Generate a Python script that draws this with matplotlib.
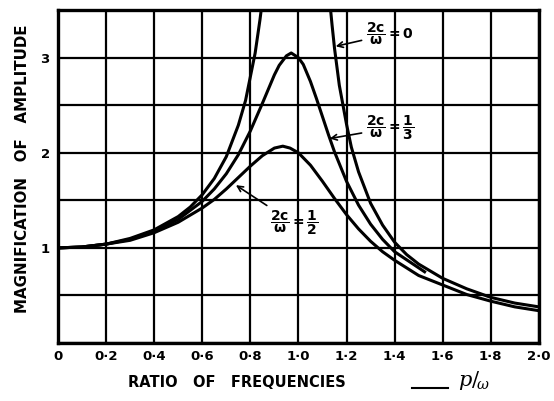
import matplotlib
matplotlib.use('Agg')
import matplotlib.pyplot as plt
from matplotlib.ticker import MultipleLocator, FixedLocator

plt.rcParams['mathtext.fontset'] = 'dejavusans'

# ── curve readings (ratio p/w, magnification) ───────────────────────────────
r_free_lo = [0.0, 0.1, 0.2, 0.3, 0.4, 0.5, 0.55, 0.6, 0.65, 0.7, 0.75, 0.78, 0.8, 0.82, 0.84, 0.85]
m_free_lo = [1.0, 1.01, 1.04, 1.10, 1.19, 1.33, 1.43, 1.56, 1.73, 1.96, 2.29, 2.55, 2.80, 3.05, 3.40, 3.60]
r_free_hi = [1.13, 1.14, 1.15, 1.17, 1.2, 1.22, 1.25, 1.3, 1.35, 1.4, 1.45, 1.5, 1.6, 1.7, 1.8, 1.9, 2.0]
m_free_hi = [3.60, 3.34, 3.10, 2.71, 2.30, 2.06, 1.80, 1.47, 1.24, 1.06, 0.93, 0.83, 0.68, 0.57, 0.48, 0.42, 0.38]

r_third = [0.0, 0.1, 0.2, 0.3, 0.4, 0.5, 0.6, 0.65, 0.7, 0.75, 0.8, 0.85, 0.88, 0.9, 0.92, 0.95,
           0.97, 1.0, 1.02, 1.05, 1.075, 1.1, 1.125, 1.15, 1.2, 1.25, 1.3, 1.35, 1.4, 1.53]
m_third = [1.0, 1.01, 1.04, 1.09, 1.18, 1.30, 1.49, 1.62, 1.78, 1.98, 2.23, 2.52, 2.70, 2.82, 2.92, 3.02,
           3.05, 3.00, 2.93, 2.75, 2.57, 2.38, 2.19, 2.01, 1.70, 1.45, 1.25, 1.09, 0.96, 0.74]

r_half = [0.0, 0.1, 0.2, 0.3, 0.4, 0.5, 0.6, 0.65, 0.7, 0.75, 0.8, 0.85, 0.9, 0.935, 0.965, 1.0,
          1.05, 1.1, 1.15, 1.2, 1.25, 1.3, 1.35, 1.4, 1.5, 1.6, 1.7, 1.8, 1.9, 2.0]
m_half = [1.0, 1.01, 1.04, 1.08, 1.16, 1.27, 1.42, 1.51, 1.62, 1.74, 1.86, 1.97, 2.05, 2.07, 2.05, 2.00,
          1.87, 1.70, 1.52, 1.35, 1.20, 1.07, 0.96, 0.87, 0.71, 0.61, 0.51, 0.44, 0.38, 0.34]

x_ticks = [0.0, 0.2, 0.4, 0.6, 0.8, 1.0, 1.2, 1.4, 1.6, 1.8, 2.0]
x_labels = ['0', '0·2', '0·4', '0·6', '0·8', '1·0', '1·2', '1·4', '1·6', '1·8', '2·0']
y_ticks = [1, 2, 3]

fig = plt.figure(figsize=(5.54, 4.01), dpi=100)
fig.patch.set_facecolor('white')
ax = fig.add_axes([0.1047, 0.1446, 0.868, 0.830])
ax.set_xlim(0, 2.0)
ax.set_ylim(0, 3.5)

# grid
ax.xaxis.set_major_locator(FixedLocator(x_ticks))
ax.yaxis.set_major_locator(FixedLocator(y_ticks))
ax.yaxis.set_minor_locator(MultipleLocator(0.5))
ax.grid(True, which='both', color='black', lw=1.6)
ax.set_axisbelow(True)
ax.tick_params(which='both', length=0)
ax.set_xticklabels(x_labels, fontsize=9.5, fontweight='bold')
ax.set_yticklabels([str(v) for v in y_ticks], fontsize=9.5, fontweight='bold')
ax.tick_params(axis='x', pad=5)
ax.tick_params(axis='y', pad=6)
for s in ax.spines.values():
    s.set_linewidth(2.4)

# curves
kw = dict(color='black', lw=2.2, solid_joinstyle='round', solid_capstyle='butt')
ax.plot(r_free_lo, m_free_lo, **kw)
ax.plot(r_free_hi, m_free_hi, **kw)
ax.plot(r_third, m_third, **kw)
ax.plot(r_half, m_half, **kw)

# labels with arrows
arr = dict(arrowstyle='->', color='black', lw=1.2, shrinkA=1, shrinkB=0)
ax.annotate(r'$\mathbf{\dfrac{2c}{\omega}=0}$', xy=(1.155, 3.12), xytext=(1.28, 3.25),
            ha='left', va='center', fontsize=10, arrowprops=arr)
ax.annotate(r'$\mathbf{\dfrac{2c}{\omega}=\dfrac{1}{3}}$', xy=(1.13, 2.15), xytext=(1.28, 2.26),
            ha='left', va='center', fontsize=10, arrowprops=arr)
ax.annotate(r'$\mathbf{\dfrac{2c}{\omega}=\dfrac{1}{2}}$', xy=(0.74, 1.66), xytext=(0.88, 1.26),
            ha='left', va='center', fontsize=10, arrowprops=arr)

# axis titles
fig.text(0.04, 0.58, 'MAGNIFICATION   OF   AMPLITUDE', rotation=90,
         ha='center', va='center', fontsize=10.8, fontweight='bold')
fig.text(0.428, 0.045, 'RATIO   OF   FREQUENCIES', ha='center', va='center',
         fontsize=10.5, fontweight='bold')
fig.add_artist(plt.Line2D([412/554, 448/554], [1-388/401, 1-388/401],
                          color='black', lw=1.5, transform=fig.transFigure))
fig.text(458/554, 0.05, r'$p/_{\!\omega}$', ha='left', va='center',
         fontsize=15, family='DejaVu Serif', math_fontfamily='dejavuserif')

plt.savefig('out.png', dpi=100, facecolor='white')
